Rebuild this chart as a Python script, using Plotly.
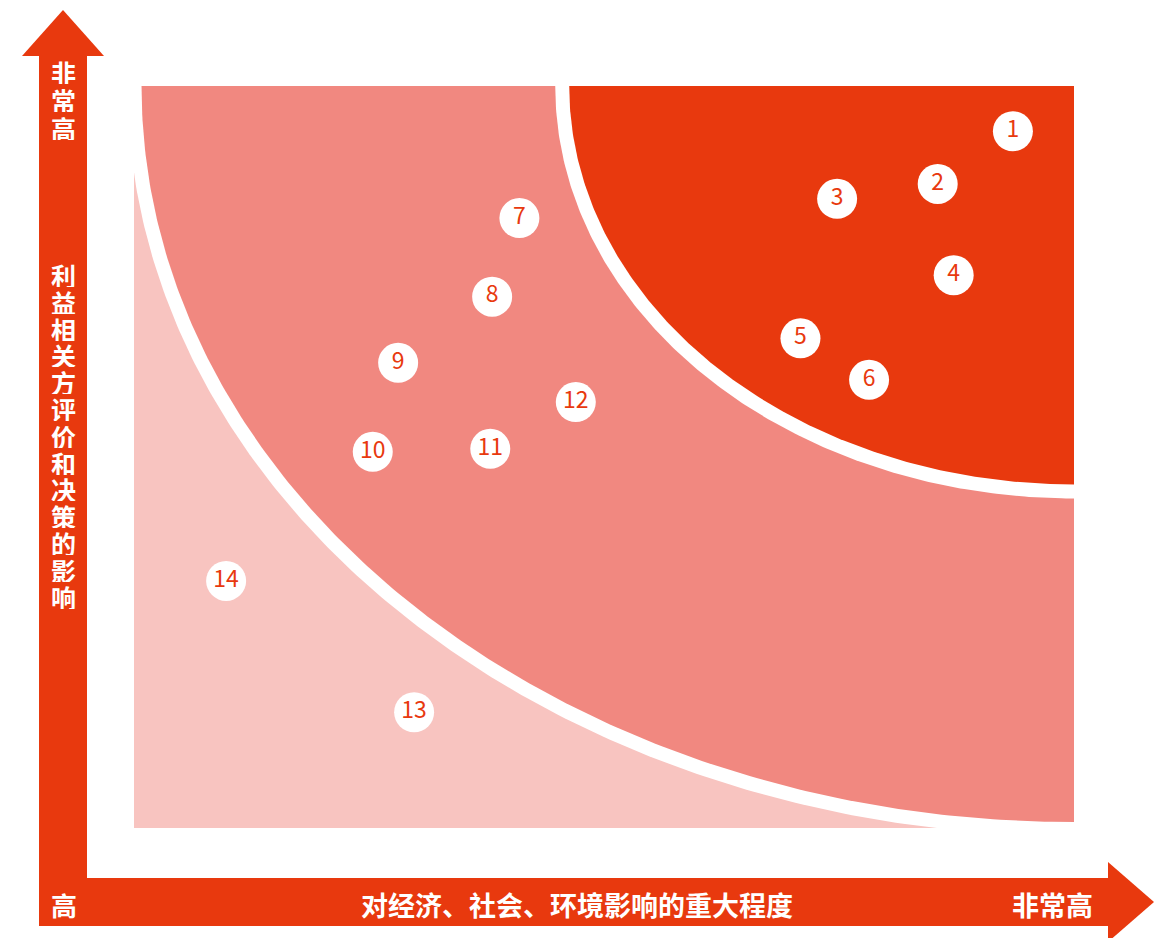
import numpy as np
import plotly.graph_objects as go

# ---------------- data ----------------
issue_ids = ["1", "2", "3", "4", "5", "6", "7", "8", "9", "10", "11", "12", "13", "14"]
# importance of economic / social / environmental impact (0-100)
impact_score = [93.5, 85.5, 74.8, 87.2, 70.9, 78.2, 41.0, 38.1, 28.1, 25.4, 37.9, 47.0, 29.8, 9.8]
# influence on stakeholder assessment and decisions (0-100)
stakeholder_score = [93.9, 86.8, 84.8, 74.5, 66.0, 60.4, 82.2, 71.6, 62.7, 50.7, 51.1, 57.4, 15.6, 33.3]

y_axis_title = "利益相关方评价和决策的影响"
x_axis_title = "对经济、社会、环境影响的重大程度"
high_label = "非常高"
low_label = "高"

# zone radii (score units, around the top-right corner 100,100)
zone_high_radius = 53.7
zone_mid_radius = 99.2
zone_low_top = 88.7

# ---------------- layout constants ----------------
W, H = 1172, 938
OFF = 8  # page body margin
RED = "#E8390E"
MID = "#F18880"
LIGHT = "#F8C4C0"

PX_X0, PX_X1 = 134, 1074   # matrix area in pixels (x)
PX_Y0, PX_Y1 = 828, 86     # matrix area in pixels (y, bottom/top)
GAP_PX = 14

ux = (PX_X1 - PX_X0) / 100.0
uy = (PX_Y0 - PX_Y1) / 100.0


def px(x):
    return (x - OFF) / W


def py(y):
    return 1 - (y - OFF) / H


def quarter(rx, ry, n=200):
    t = np.linspace(np.pi, 1.5 * np.pi, n)
    xs = 100 + rx * np.cos(t)
    ys = 100 + ry * np.sin(t)
    xs = np.concatenate([xs, [100, 100 - rx]])
    ys = np.concatenate([ys, [100, 100]])
    return xs, ys


fig = go.Figure()

# light zone (rectangle)
fig.add_trace(go.Scatter(x=[0, 100, 100, 0, 0], y=[0, 0, zone_low_top, zone_low_top, 0],
                         mode="lines", fill="toself", fillcolor=LIGHT, line=dict(width=0),
                         hoverinfo="skip", showlegend=False))

for r, col, gap in [(zone_mid_radius, "white", True), (zone_mid_radius, MID, False),
                    (zone_high_radius, "white", True), (zone_high_radius, RED, False)]:
    rx = r + (GAP_PX / ux if gap else 0)
    ry = r + (GAP_PX / uy if gap else 0)
    xs, ys = quarter(rx, ry)
    fig.add_trace(go.Scatter(x=xs, y=ys, mode="lines", fill="toself", fillcolor=col,
                             line=dict(width=0), hoverinfo="skip", showlegend=False))

# issues
fig.add_trace(go.Scatter(x=impact_score, y=stakeholder_score, mode="markers+text",
                         text=issue_ids, textposition="middle center",
                         marker=dict(size=40, color="white", line=dict(width=0)),
                         textfont=dict(family="Noto Sans CJK SC", size=23, color=RED),
                         showlegend=False, cliponaxis=False))

shapes = []
# vertical arrow
shapes.append(dict(type="rect", xref="paper", yref="paper", x0=px(39), x1=px(87),
                   y0=py(926), y1=py(55), fillcolor=RED, line=dict(width=0), layer="below"))
shapes.append(dict(type="path", xref="paper", yref="paper",
                   path=f"M {px(22)} {py(56)} L {px(104)} {py(56)} L {px(63)} {py(10)} Z",
                   fillcolor=RED, line=dict(width=0), layer="below"))
# horizontal arrow
shapes.append(dict(type="rect", xref="paper", yref="paper", x0=px(39), x1=px(1109),
                   y0=py(926), y1=py(878), fillcolor=RED, line=dict(width=0), layer="below"))
shapes.append(dict(type="path", xref="paper", yref="paper",
                   path=f"M {px(1108)} {py(862)} L {px(1154)} {py(902)} L {px(1108)} {py(942)} Z",
                   fillcolor=RED, line=dict(width=0), layer="below"))

annotations = []
BOLD = "Noto Sans CJK SC"


def char_col(text, x, y_start, step, size):
    for i, ch in enumerate(text):
        annotations.append(dict(xref="paper", yref="paper", x=px(x), y=py(y_start + i * step),
                                text=f"<b>{ch}</b>", showarrow=False,
                                xanchor="center", yanchor="middle",
                                height=int(step) - 2, borderpad=0,
                                font=dict(family=BOLD, size=size, color="white")))


char_col(high_label, 63, 72, 27.5, 25)
char_col(y_axis_title, 63, 275, 26.8, 25)

annotations.append(dict(xref="paper", yref="paper", x=px(64), y=py(904), text=f"<b>{low_label}</b>",
                        showarrow=False, xanchor="center", yanchor="middle",
                        font=dict(family=BOLD, size=26, color="white")))
annotations.append(dict(xref="paper", yref="paper", x=px(577), y=py(904), text=f"<b>{x_axis_title}</b>",
                        showarrow=False, xanchor="center", yanchor="middle",
                        font=dict(family=BOLD, size=27, color="white")))
annotations.append(dict(xref="paper", yref="paper", x=px(1052), y=py(904), text=f"<b>{high_label}</b>",
                        showarrow=False, xanchor="center", yanchor="middle",
                        font=dict(family=BOLD, size=27, color="white")))

fig.update_layout(
    width=W, height=H, autosize=False,
    margin=dict(l=0, r=0, t=0, b=0),
    paper_bgcolor="white", plot_bgcolor="rgba(0,0,0,0)",
    xaxis=dict(domain=[px(PX_X0), px(PX_X1)], range=[0, 100], visible=False, fixedrange=True),
    yaxis=dict(domain=[py(PX_Y0), py(PX_Y1)], range=[0, 100], visible=False, fixedrange=True),
    shapes=shapes, annotations=annotations,
)

fig.write_html("out.html")
